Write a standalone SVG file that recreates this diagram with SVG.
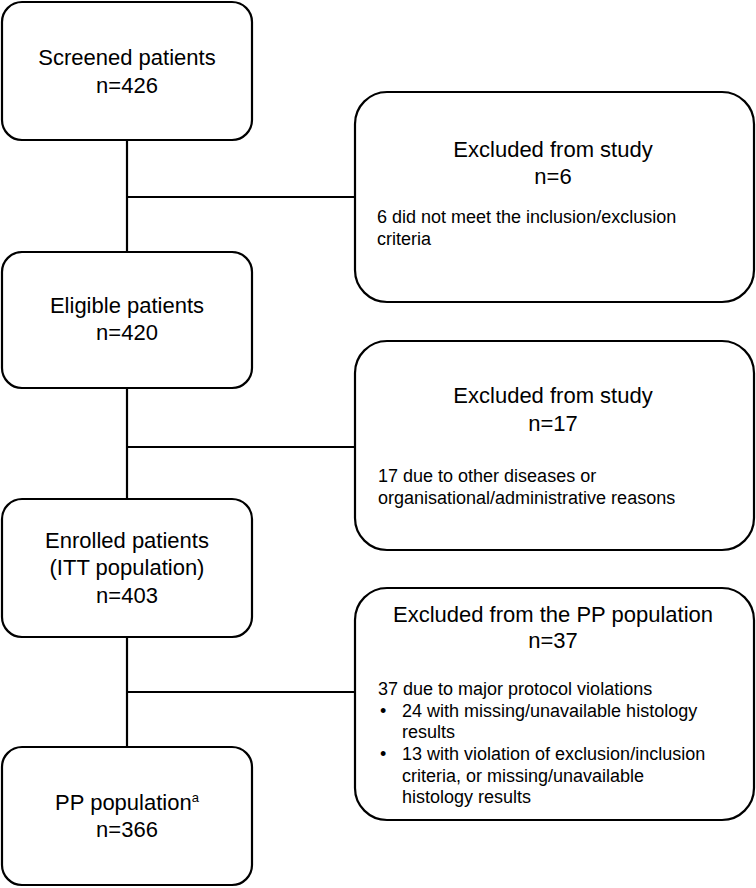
<svg xmlns="http://www.w3.org/2000/svg" width="756" height="888" viewBox="0 0 756 888">
<style>
.box{fill:#fff;stroke:#000;stroke-width:2.2}
.ln{fill:none;stroke:#000;stroke-width:2.2}
.t{font-family:"Liberation Sans",Arial,sans-serif;font-size:22px;fill:#000;text-anchor:middle}
.s{font-family:"Liberation Sans",Arial,sans-serif;font-size:18px;fill:#000}
</style>
<rect width="756" height="888" fill="#fff"/>
<g id="connectors">
<line class="ln" x1="127" y1="140" x2="127" y2="252"/>
<line class="ln" x1="127" y1="197" x2="355" y2="197"/>
<line class="ln" x1="127" y1="388" x2="127" y2="499"/>
<line class="ln" x1="127" y1="447" x2="355" y2="447"/>
<line class="ln" x1="127" y1="637" x2="127" y2="747"/>
<line class="ln" x1="127" y1="692" x2="355" y2="692"/>
</g>
<g id="screened">
<rect class="box" x="2" y="2" width="250" height="138" rx="20"/>
<text class="t" x="127" y="65">Screened patients</text>
<text class="t" x="127" y="93">n=426</text>
</g>
<g id="excluded1">
<rect class="box" x="355" y="92" width="399" height="210" rx="32"/>
<text class="t" x="553" y="157">Excluded from study</text>
<text class="t" x="553" y="184">n=6</text>
<text class="s" x="377" y="223">6 did not meet the inclusion/exclusion</text>
<text class="s" x="377" y="245">criteria</text>
</g>
<g id="eligible">
<rect class="box" x="2" y="252" width="250" height="136" rx="20"/>
<text class="t" x="127" y="313">Eligible patients</text>
<text class="t" x="127" y="340">n=420</text>
</g>
<g id="excluded2">
<rect class="box" x="355" y="341" width="399" height="209" rx="32"/>
<text class="t" x="553" y="403">Excluded from study</text>
<text class="t" x="553" y="431">n=17</text>
<text class="s" x="378" y="482">17 due to other diseases or</text>
<text class="s" x="378" y="504">organisational/administrative reasons</text>
</g>
<g id="enrolled">
<rect class="box" x="2" y="499" width="250" height="138" rx="20"/>
<text class="t" x="127" y="548">Enrolled patients</text>
<text class="t" x="127" y="575">(ITT population)</text>
<text class="t" x="127" y="603">n=403</text>
</g>
<g id="excluded3">
<rect class="box" x="355" y="588" width="399" height="232" rx="32"/>
<text class="t" x="553" y="622">Excluded from the PP population</text>
<text class="t" x="553" y="648">n=37</text>
<text class="s" x="378" y="695">37 due to major protocol violations</text>
<text class="s" x="380" y="717">•</text>
<text class="s" x="402" y="717">24 with missing/unavailable histology</text>
<text class="s" x="402" y="738">results</text>
<text class="s" x="380" y="760">•</text>
<text class="s" x="402" y="760">13 with violation of exclusion/inclusion</text>
<text class="s" x="402" y="782">criteria, or missing/unavailable</text>
<text class="s" x="402" y="803">histology results</text>
</g>
<g id="pp">
<rect class="box" x="2" y="747" width="250" height="138" rx="20"/>
<text class="t" x="127" y="810">PP population<tspan font-size="13" dy="-8">a</tspan></text>
<text class="t" x="127" y="837">n=366</text>
</g>
</svg>
